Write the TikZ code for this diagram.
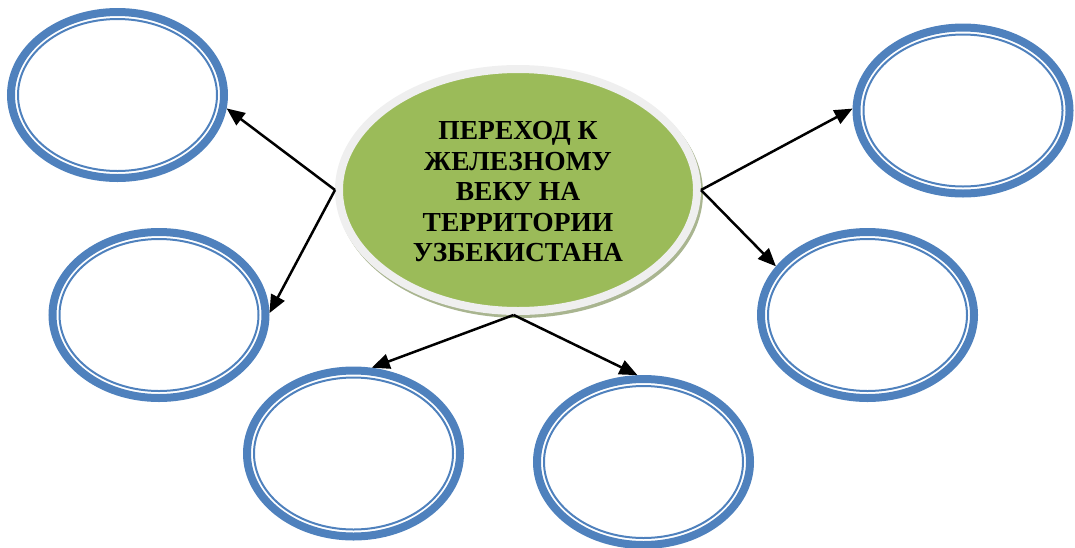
\documentclass[tikz,border=0pt]{standalone}
\usepackage{fontspec}
\setmainfont{Liberation Serif}
\usetikzlibrary{shapes.geometric,arrows.meta}
\definecolor{ringblue}{HTML}{4F81BD}
\definecolor{leafgreen}{HTML}{9BBB59}
\definecolor{rimgray}{HTML}{EFEFEF}
\definecolor{shadowgreen}{HTML}{A9B590}
\tikzset{
	ring/.style={ellipse,draw=ringblue,line width=8pt,inner sep=0pt,minimum height=166pt},
	hub/.style={ellipse,fill=leafgreen,draw=rimgray,line width=8pt,minimum width=358pt,minimum height=242pt,inner sep=0pt},
	link/.style={line width=2.5pt,-{Triangle[length=18pt,width=15pt]}}
}
\begin{document}
\begin{tikzpicture}[x=1pt,y=-1pt]
				\useasboundingbox (0,0) rectangle (1075,547);
				\fill[shadowgreen] (520,193) ellipse [x radius=183, y radius=125];
				\node[hub] (ctr) at (518,190) {};
				\node[align=center,font=\fontsize{27.5}{30.5}\selectfont\bfseries] (title) at (518,192) {ПЕРЕХОД К\\ЖЕЛЕЗНОМУ\\ВЕКУ НА\\ТЕРРИТОРИИ\\УЗБЕКИСТАНА};
				\foreach \n/\x/\y/\r in {tl/117.5/95/110.5, ml/159/315/110.5, bl/353.5/453.5/110.5, bm/643.5/462/110.5, rm/867.5/315/110.5, tr/963/110.5/110.5} {
					\node[ring,minimum width={2*\r-8}] (\n) at (\x,\y) {};
					\draw[ringblue,line width=2pt] (\x,\y) ellipse [x radius={\r-11}, y radius=76];
				}
				\draw[link] (ctr.west) -- (tl.-7);
				\draw[link] (ctr.west) -- (ml.1);
				\draw[link] (ctr.-92) -- (bl.78);
				\draw[link] (ctr.-92) -- (bm.94);
				\draw[link] (ctr.east) -- (tr.179);
				\draw[link] (ctr.east) -- (rm.152);
\end{tikzpicture}
\end{document}
